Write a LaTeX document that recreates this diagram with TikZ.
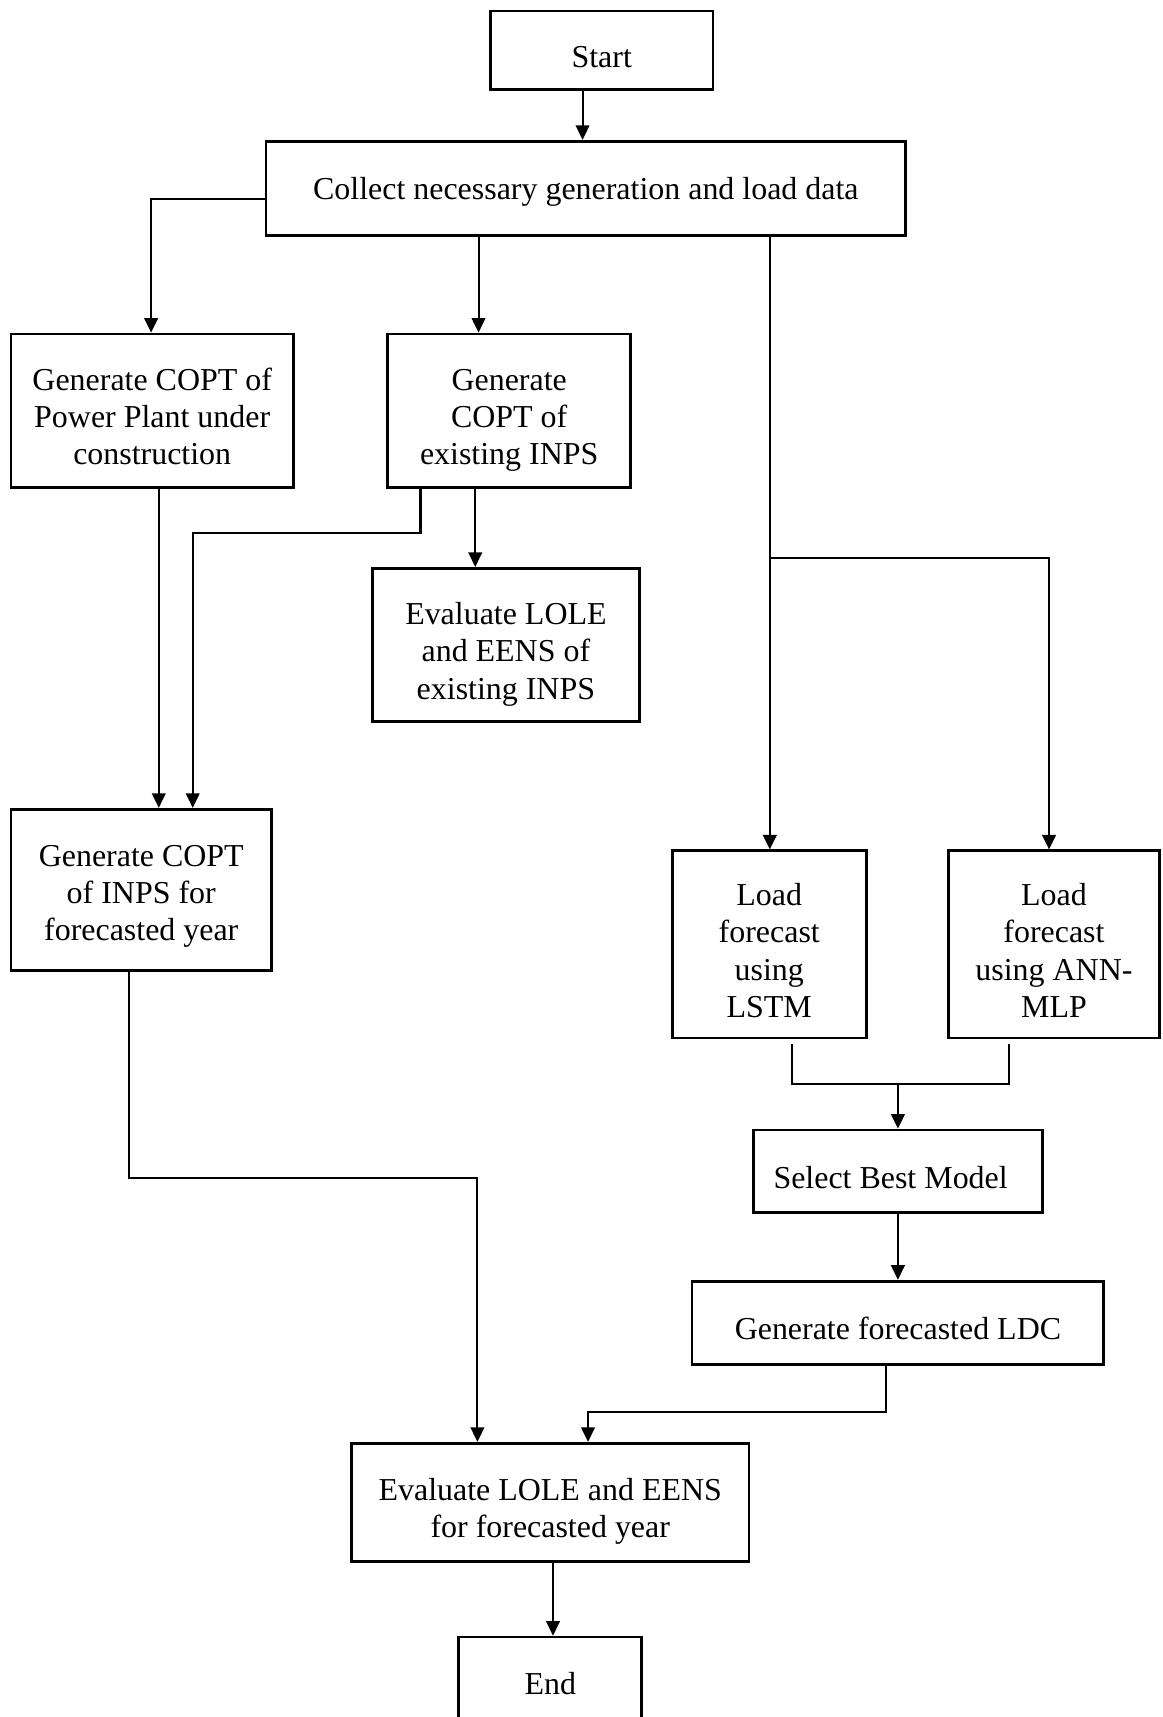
\documentclass[tikz,border=0pt]{standalone}
\usepackage{fontspec}
\setmainfont{Liberation Serif}
\usetikzlibrary{arrows.meta}
\newcommand{\tp}[1][23.6pt]{\rule{0pt}{#1}}
\newcommand{\bt}{\rule[-5pt]{0pt}{5pt}}
\tikzset{
	box/.style={draw, line width=1.5pt, align=center, inner sep=0pt, font=\fontsize{17.5}{20.4}\selectfont},
	arr/.style={-{Triangle[length=8pt,width=7.5pt]}, line width=1.1pt},
	ln/.style={line width=1.1pt}
}
\begin{document}
\begin{tikzpicture}[x=0.6pt, y=-0.6pt, line join=miter]
	\useasboundingbox (0,0) rectangle (1062,1568);
	\node[box, minimum width=203*0.6pt, minimum height=72*0.6pt] (start) at (549.5,46) {\tp Start\bt};
	\node[box, minimum width=584*0.6pt, minimum height=86*0.6pt] (collect) at (535,172) {\tp[17pt]Collect necessary generation and load data\bt};
	\node[box, minimum width=258*0.6pt, minimum height=140*0.6pt] (gcpp) at (139,375) {\tp Generate COPT of\\Power Plant under\\construction\bt};
	\node[box, minimum width=222*0.6pt, minimum height=140*0.6pt] (gcex) at (465,375) {\tp Generate\\COPT of\\existing INPS\bt};
	\node[box, minimum width=244*0.6pt, minimum height=140*0.6pt] (evex) at (462,589) {\tp Evaluate LOLE\\and EENS of\\existing INPS\bt};
	\node[box, minimum width=238*0.6pt, minimum height=147*0.6pt] (gcfy) at (129,812.5) {\tp[20pt]Generate COPT\\of INPS for\\forecasted year\bt};
	\node[box, minimum width=177*0.6pt, minimum height=171*0.6pt] (lstm) at (702.5,862.5) {\tp Load\\forecast\\using\\LSTM\bt};
	\node[box, minimum width=193*0.6pt, minimum height=171*0.6pt] (ann) at (962.5,862.5) {\tp Load\\forecast\\using ANN-\\MLP\bt};
	\node[box, minimum width=264*0.6pt, minimum height=75*0.6pt] (best) at (820,1069.5) {\tp Select Best Model\hspace{8pt}\bt};
	\node[box, minimum width=376*0.6pt, minimum height=76*0.6pt] (ldc) at (820,1208) {\tp Generate forecasted LDC\bt};
	\node[box, minimum width=363*0.6pt, minimum height=108*0.6pt] (evfy) at (502.5,1372) {\tp Evaluate LOLE and EENS\\for forecasted year\bt};
	\node[box, minimum width=167*0.6pt, minimum height=82*0.6pt] (end) at (502.5,1536) {\tp[19pt]End\bt};
	\path
	(703,510) coordinate (split)
	(820,990) coordinate (merge)
	;
	\draw[arr] (532,0 |- start.south) -- (532,0 |- collect.north);
	\draw[arr] (collect.west |- 0,182) -| (138,0 |- gcpp.north);
	\draw[arr] (437,0 |- collect.south) -- (437,0 |- gcex.north);
	\draw[arr] (703,0 |- collect.south) -- (703,0 |- lstm.north);
	\draw[arr] (split) -| (958,0 |- ann.north);
	\draw[arr] (434,0 |- gcex.south) -- (434,0 |- evex.north);
	\draw[arr] (384,0 |- gcex.south) -- (384,487) -| (176,0 |- gcfy.north);
	\draw[arr] (145,0 |- gcpp.south) -- (145,0 |- gcfy.north);
	\draw[arr] (118,0 |- gcfy.south) -- (118,1076) -| (436,0 |- evfy.north);
	\draw[ln, shorten <=2.4pt, shorten >=2.4pt] (723,0 |- lstm.south) |- (merge) -| (921,0 |- ann.south);
	\draw[arr] (merge) -- (820,0 |- best.north);
	\draw[arr] (820,0 |- best.south) -- (820,0 |- ldc.north);
	\draw[arr] (809,0 |- ldc.south) -- (809,1289) -| (537,0 |- evfy.north);
	\draw[arr] (505,0 |- evfy.south) -- (505,0 |- end.north);
\end{tikzpicture}
\end{document}
